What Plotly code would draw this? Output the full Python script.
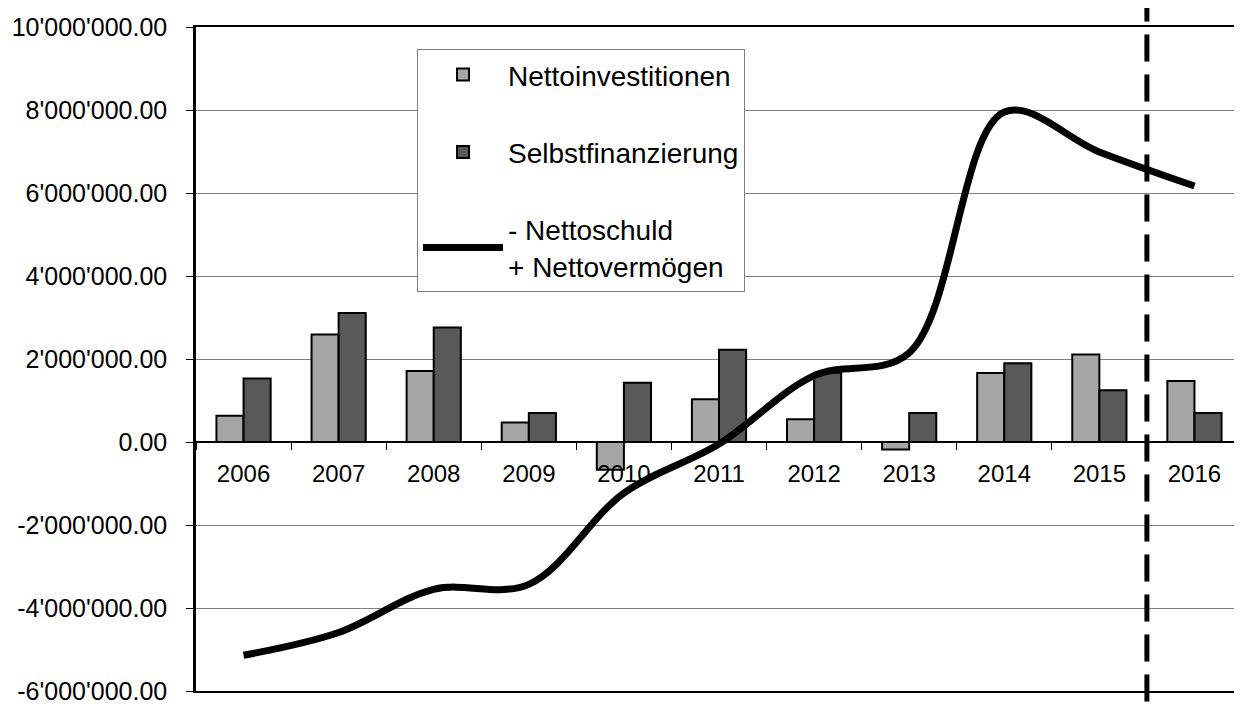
import plotly.graph_objects as go

years = ["2006", "2007", "2008", "2009", "2010", "2011", "2012", "2013", "2014", "2015", "2016"]
nettoinvestitionen = [630000, 2590000, 1710000, 470000, -670000, 1030000, 550000, -180000, 1660000, 2110000, 1470000]
selbstfinanzierung = [1530000, 3110000, 2760000, 700000, 1430000, 2220000, 1670000, 700000, 1900000, 1250000, 700000]
nettovermoegen = [-5140000, -4590000, -3550000, -3430000, -1230000, -50000, 1600000, 2150000, 7950000, 6990000, 6170000]

y_tickvals = [10000000, 8000000, 6000000, 4000000, 2000000, 0, -2000000, -4000000, -6000000]
y_ticktext = ["10'000'000.00", "8'000'000.00", "6'000'000.00", "4'000'000.00", "2'000'000.00",
              "0.00", "-2'000'000.00", "-4'000'000.00", "-6'000'000.00"]
forecast_boundary = 9.5  # between 2015 and 2016

FONT = "Liberation Sans, Arial, sans-serif"

fig = go.Figure()
fig.add_trace(go.Bar(
    x=years, y=nettoinvestitionen, name="Nettoinvestitionen",
    marker=dict(color="#a6a6a6", line=dict(color="black", width=2)),
    legendgroup="a",
))
fig.add_trace(go.Bar(
    x=years, y=selbstfinanzierung, name="Selbstfinanzierung",
    marker=dict(color="#595959", line=dict(color="black", width=2)),
    legendgroup="b",
))
fig.add_trace(go.Scatter(
    x=years, y=nettovermoegen, name="- Nettoschuld<br>+ Nettovermögen",
    mode="lines", line=dict(color="black", width=7, shape="spline", smoothing=1.0),
    legendgroup="c",
))

fig.add_shape(type="line", xref="x", yref="paper", x0=forecast_boundary, x1=forecast_boundary,
              y0=-0.016, y1=1.029, line=dict(color="black", width=5, dash="27px,13px"), layer="above")

fig.update_layout(
    width=1234, height=697,
    margin=dict(l=188, r=0, t=19, b=12),
    paper_bgcolor="white", plot_bgcolor="white",
    barmode="group", bargap=0.43, bargroupgap=0,
    font=dict(family=FONT, size=24, color="black"),
    showlegend=True,
    legend=dict(
        x=0.2113, y=0.967, xanchor="left", yanchor="top",
        bgcolor="white", bordercolor="#808080", borderwidth=1,
        font=dict(family=FONT, size=28, color="black"),
        traceorder="grouped", tracegroupgap=38, itemwidth=80,
    ),
    xaxis=dict(
        type="category", anchor="free", position=0.375,
        showline=True, linecolor="black", linewidth=2,
        ticks="outside", tickson="boundaries", ticklen=7, tickcolor="black", tickwidth=1,
        showgrid=False, zeroline=False,
        tickfont=dict(family=FONT, size=24, color="black"),
        ticklabelstandoff=10,
        range=[-0.5, 10.5],
    ),
    xaxis2=dict(
        overlaying="x", anchor="y", range=[0, 1], showticklabels=False, ticks="",
        showgrid=False, zeroline=False, showline=True, mirror=True,
        linecolor="black", linewidth=2,
    ),
    yaxis=dict(
        range=[-6000000, 10000000], tickvals=y_tickvals, ticktext=y_ticktext,
        showgrid=True, gridcolor="#808080", gridwidth=1, zeroline=False,
        showline=True, linecolor="black", linewidth=2.5,
        ticks="outside", ticklen=7, tickcolor="black",
        tickfont=dict(family=FONT, size=25, color="black"),
        ticklabelstandoff=14, ticklabeloverflow="allow",
    ),
)
# invisible helper trace so xaxis2 is drawn (top & bottom border lines)
fig.add_trace(go.Scatter(x=[0, 1], y=[None, None], xaxis="x2", yaxis="y", showlegend=False,
                         hoverinfo="skip", mode="lines"))

fig.write_html("out.html")
